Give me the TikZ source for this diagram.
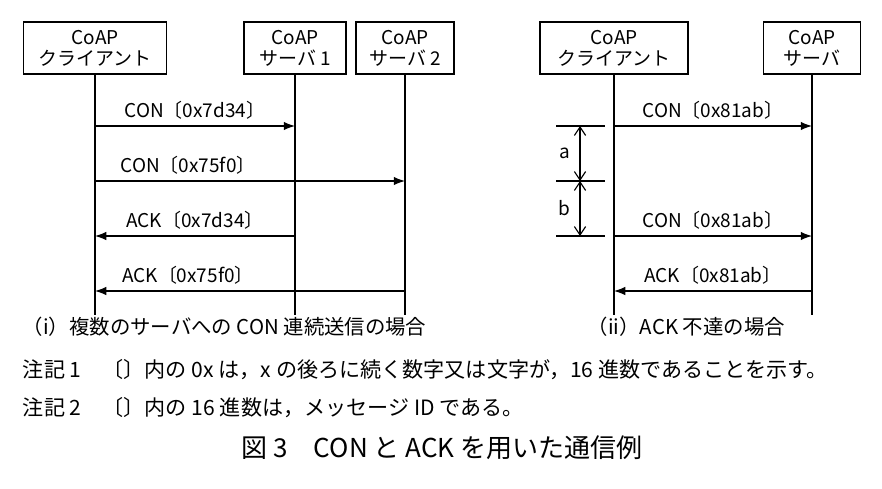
\documentclass[tikz,border=0pt]{standalone}
\usepackage{fontspec}
\setmainfont{Noto Sans CJK JP}
\usetikzlibrary{arrows.meta}
\tikzset{
  ent/.style={draw,thick,align=center,inner sep=2pt,font=\fontsize{13.5}{15}\selectfont},
  life/.style={thick},
  msg/.style={thick,-{Latex[length=8pt,width=6pt]}},
  lbl/.style={font=\fontsize{13.5}{15}\selectfont},
  note/.style={font=\fontsize{15}{17}\selectfont,anchor=west}
}
\begin{document}
\begin{tikzpicture}[x=0.025cm,y=-0.025cm]
  \useasboundingbox (0,0) rectangle (882,488);
  % entities
  \node[ent,minimum width=143*0.025cm,minimum height=52*0.025cm] (cl1) at (95,48) {CoAP\\クライアント};
  \node[ent,minimum width=102*0.025cm,minimum height=52*0.025cm] (sv1) at (295,48) {CoAP\\サーバ 1};
  \node[ent,minimum width=98*0.025cm,minimum height=52*0.025cm] (sv2) at (405,48) {CoAP\\サーバ 2};
  \node[ent,minimum width=148*0.025cm,minimum height=52*0.025cm] (cl2) at (614,48) {CoAP\\クライアント};
  \node[ent,minimum width=97*0.025cm,minimum height=52*0.025cm] (sv3) at (812,48) {CoAP\\サーバ};
  % lifelines
  \foreach \n/\x in {cl1/95,sv1/295,sv2/405,cl2/614,sv3/812}
    \coordinate (\n e) at (\x,315);
  \foreach \n in {cl1,sv1,sv2,cl2,sv3}
    \draw[life] (\n.south) -- (\n e);
  % (i)
  \coordinate (a1) at (95,126); \coordinate (b1) at (295,126);
  \coordinate (a2) at (95,181); \coordinate (b2) at (405,181);
  \coordinate (a3) at (295,236); \coordinate (b3) at (95,236);
  \coordinate (a4) at (405,291); \coordinate (b4) at (95,291);
  \draw[msg] (a1) -- (b1) node[lbl,midway,above=1pt] {CON〔0x7d34〕};
  \draw[msg] (a2) -- (b2) node[lbl,pos=0.3,above=1pt] {CON〔0x75f0〕};
  \draw[msg] (a3) -- (b3) node[lbl,midway,above=1pt] {ACK〔0x7d34〕};
  \draw[msg] (a4) -- (b4) node[lbl,pos=0.7,above=1pt] {ACK〔0x75f0〕};
  % (ii)
  \coordinate (c1) at (614,126); \coordinate (d1) at (812,126);
  \coordinate (c2) at (614,236); \coordinate (d2) at (812,236);
  \coordinate (c3) at (812,291); \coordinate (d3) at (614,291);
  \draw[msg] (c1) -- (d1) node[lbl,midway,above=1pt] {CON〔0x81ab〕};
  \draw[msg] (c2) -- (d2) node[lbl,midway,above=1pt] {CON〔0x81ab〕};
  \draw[msg] (c3) -- (d3) node[lbl,midway,above=1pt] {ACK〔0x81ab〕};
  % dimension a, b
  \foreach \y/\n in {126/t1,181/t2,236/t3} {
    \coordinate (\n l) at (556,\y); \coordinate (\n r) at (605,\y);
    \draw[thick] (\n l) -- (\n r);
    \coordinate (\n) at (580,\y);
  }
  \draw[thick,{Straight Barb[length=6pt,width=8pt]}-{Straight Barb[length=6pt,width=8pt]}] (t1) -- (t2) node[lbl,midway,left=3pt] {a};
  \draw[thick,{Straight Barb[length=6pt,width=8pt]}-{Straight Barb[length=6pt,width=8pt]}] (t2) -- (t3) node[lbl,midway,left=3pt] {b};
  % captions
  \node[note,font=\fontsize{14.5}{16}\selectfont] (cap1) at (18,327) {（i）複数のサーバへの CON 連続送信の場合};
  \node[note,font=\fontsize{14.5}{16}\selectfont] (cap2) at (583,327) {（ii）ACK 不達の場合};
  \node[note] (n1) at (18,370) {注記 1\quad〔〕内の 0x は，x の後ろに続く数字又は文字が，16 進数であることを示す。};
  \node[note] (n2) at (18,408) {注記 2\quad〔〕内の 16 進数は，メッセージ ID である。};
  \node[font=\fontsize{18.5}{20}\selectfont] (ttl) at (442,448) {図 3\quad CON と ACK を用いた通信例};
\end{tikzpicture}
\end{document}
